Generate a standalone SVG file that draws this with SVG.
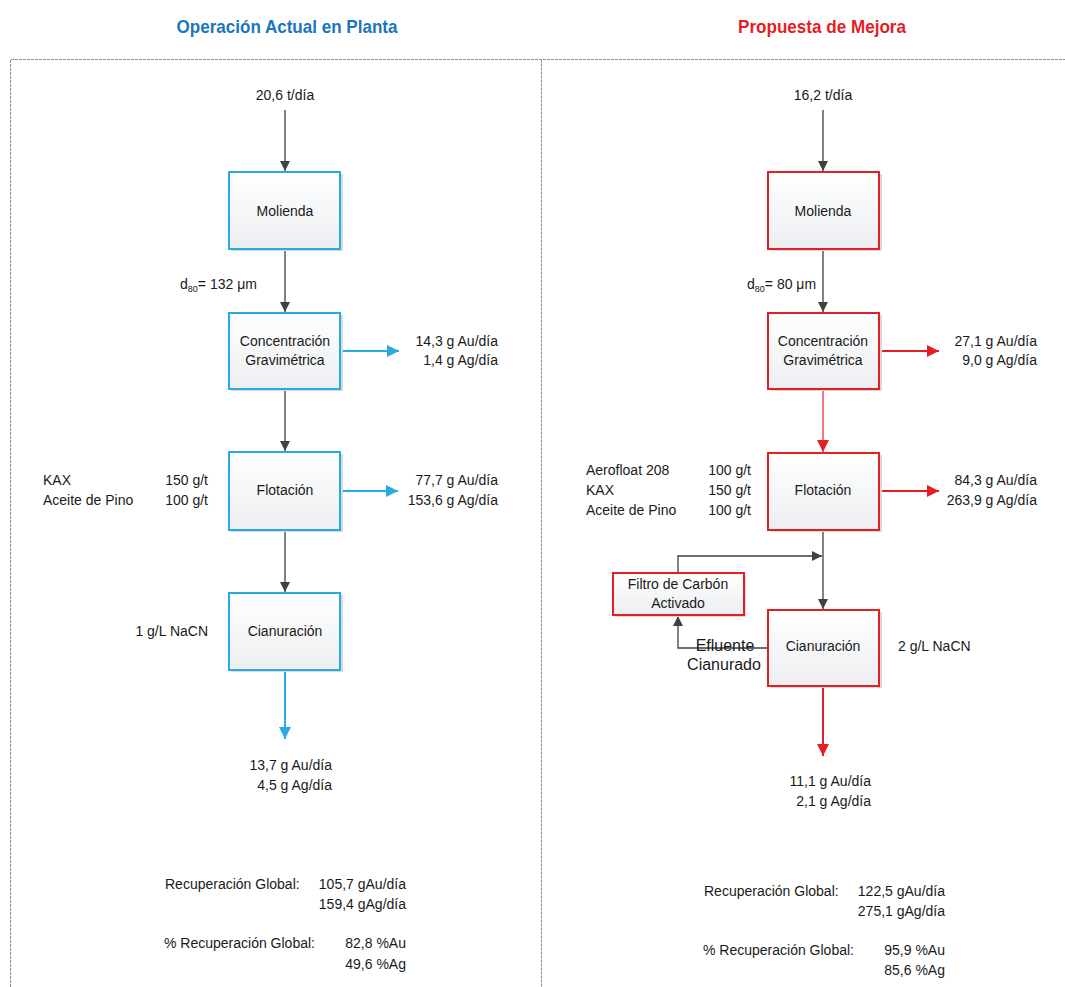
<svg xmlns="http://www.w3.org/2000/svg" width="1065" height="987" viewBox="0 0 1065 987">
  <defs>
    <linearGradient id="boxFill" x1="0" y1="0" x2="0" y2="1">
      <stop offset="0" stop-color="#ffffff"/>
      <stop offset="1" stop-color="#eceef1"/>
    </linearGradient>
    <marker id="arrGray" viewBox="0 0 10 10" refX="10" refY="5" markerWidth="10" markerHeight="10" markerUnits="userSpaceOnUse" orient="auto">
      <path d="M0,0 L10,5 L0,10 Z" fill="#404040"/>
    </marker>
    <marker id="arrBlue" viewBox="0 0 10 10" refX="10" refY="5" markerWidth="12" markerHeight="12" markerUnits="userSpaceOnUse" orient="auto">
      <path d="M0,0 L10,5 L0,10 Z" fill="#29abe2"/>
    </marker>
    <marker id="arrRed" viewBox="0 0 10 10" refX="10" refY="5" markerWidth="12" markerHeight="12" markerUnits="userSpaceOnUse" orient="auto">
      <path d="M0,0 L10,5 L0,10 Z" fill="#e31e24"/>
    </marker>
  </defs>
  <style>
    text { font-family: "Liberation Sans", Arial, sans-serif; font-size: 14px; fill: #1a1a1a; }
    .title { font-size: 19px; font-weight: bold; }
    .mid { text-anchor: middle; }
    .end { text-anchor: end; }
    .sub { font-size: 9px; }
    .big { font-size: 16px; }
    .frame { fill: none; stroke: #8c8c8c; stroke-width: 1; stroke-dasharray: 3 1; }
    .shadow { fill: #d9d9d9; }
    .boxBlue { fill: url(#boxFill); stroke: #29abe2; stroke-width: 2; }
    .boxRed { fill: url(#boxFill); stroke: #e31e24; stroke-width: 2; }
    .lnGray { fill: none; stroke: #404040; stroke-width: 1.3; }
    .lnBlue { fill: none; stroke: #29abe2; stroke-width: 2; }
    .lnRed { fill: none; stroke: #e31e24; stroke-width: 2; }
    .lnRedThin { fill: none; stroke: #e31e24; stroke-width: 1.2; }
  </style>

  <rect width="1065" height="987" fill="#ffffff"/>

  <!-- panel titles -->
  <text class="title mid" x="287" y="33" fill="#1b75bc" style="fill:#1b75bc" textLength="221" lengthAdjust="spacingAndGlyphs">Operación Actual en Planta</text>
  <text class="title mid" x="822" y="33" style="fill:#e31e24" textLength="168" lengthAdjust="spacingAndGlyphs">Propuesta de Mejora</text>

  <!-- dashed panel frame -->
  <g id="frame">
    <path class="frame" d="M10.5,995 V59.5 H1075"/>
    <path class="frame" d="M541.5,59.5 V995"/>
  </g>

  <!-- connectors -->
  <g id="connectors">
    <!-- current operation -->
    <path class="lnGray" d="M285,110 V171" marker-end="url(#arrGray)"/>
    <path class="lnGray" d="M285,250 V312" marker-end="url(#arrGray)"/>
    <path class="lnBlue" d="M342,351 H399" marker-end="url(#arrBlue)"/>
    <path class="lnGray" d="M285,390 V451" marker-end="url(#arrGray)"/>
    <path class="lnBlue" d="M342,491 H398" marker-end="url(#arrBlue)"/>
    <path class="lnGray" d="M285,531 V592" marker-end="url(#arrGray)"/>
    <path class="lnBlue" d="M285,671 V739" marker-end="url(#arrBlue)"/>
    <!-- improvement proposal -->
    <path class="lnGray" d="M823,110 V171" marker-end="url(#arrGray)"/>
    <path class="lnGray" d="M823,250 V312" marker-end="url(#arrGray)"/>
    <path class="lnRed" d="M880,351 H939" marker-end="url(#arrRed)"/>
    <path class="lnRedThin" d="M823,390 V452" marker-end="url(#arrRed)"/>
    <path class="lnRed" d="M880,491 H939" marker-end="url(#arrRed)"/>
    <path class="lnGray" d="M823,531 V609" marker-end="url(#arrGray)"/>
    <path class="lnGray" d="M678,572 V556 H822" marker-end="url(#arrGray)"/>
    <path class="lnGray" d="M767,648 H678 V616" marker-end="url(#arrGray)"/>
    <path class="lnRed" d="M823,687 V756" marker-end="url(#arrRed)"/>
  </g>

  <!-- current operation nodes -->
  <g id="molienda-actual">
    <rect class="shadow" x="231" y="174" width="112" height="77"/>
    <rect class="boxBlue" x="229" y="172" width="111" height="77"/>
    <text class="mid" x="285" y="216">Molienda</text>
  </g>
  <g id="concentracion-actual">
    <rect class="shadow" x="231" y="315" width="112" height="76"/>
    <rect class="boxBlue" x="229" y="313" width="111" height="76"/>
    <text class="mid" x="285" y="346">Concentración</text>
    <text class="mid" x="285" y="365">Gravimétrica</text>
  </g>
  <g id="flotacion-actual">
    <rect class="shadow" x="231" y="454" width="112" height="78"/>
    <rect class="boxBlue" x="229" y="452" width="111" height="78"/>
    <text class="mid" x="285" y="495">Flotación</text>
  </g>
  <g id="cianuracion-actual">
    <rect class="shadow" x="231" y="595" width="112" height="77"/>
    <rect class="boxBlue" x="229" y="593" width="111" height="77"/>
    <text class="mid" x="285" y="636">Cianuración</text>
  </g>

  <!-- current operation labels -->
  <g id="labels-actual">
    <text class="mid" x="285" y="100">20,6 t/día</text>
    <text x="180" y="289">d<tspan class="sub" dy="3">80</tspan><tspan dy="-3">= 132 μm</tspan></text>
    <text class="end" x="498" y="346">14,3 g Au/día</text>
    <text class="end" x="498" y="365">1,4 g Ag/día</text>
    <text x="43" y="485">KAX</text>
    <text x="43" y="505">Aceite de Pino</text>
    <text class="end" x="208" y="485">150 g/t</text>
    <text class="end" x="208" y="505">100 g/t</text>
    <text class="end" x="498" y="485">77,7 g Au/día</text>
    <text class="end" x="498" y="505">153,6 g Ag/día</text>
    <text class="end" x="208" y="636">1 g/L NaCN</text>
    <text class="end" x="332" y="770">13,7 g Au/día</text>
    <text class="end" x="332" y="790">4,5 g Ag/día</text>
    <text x="165" y="889">Recuperación Global:</text>
    <text class="end" x="406" y="889">105,7 gAu/día</text>
    <text class="end" x="406" y="909">159,4 gAg/día</text>
    <text x="164" y="948">% Recuperación Global:</text>
    <text class="end" x="406" y="948">82,8 %Au</text>
    <text class="end" x="406" y="969">49,6 %Ag</text>
  </g>

  <!-- improvement proposal nodes -->
  <g id="molienda-mejora">
    <rect class="shadow" x="771" y="174" width="111" height="77"/>
    <rect class="boxRed" x="768" y="172" width="111" height="77"/>
    <text class="mid" x="823" y="216">Molienda</text>
  </g>
  <g id="concentracion-mejora">
    <rect class="shadow" x="771" y="315" width="111" height="76"/>
    <rect class="boxRed" x="768" y="313" width="111" height="76"/>
    <text class="mid" x="823" y="346">Concentración</text>
    <text class="mid" x="823" y="365">Gravimétrica</text>
  </g>
  <g id="flotacion-mejora">
    <rect class="shadow" x="771" y="455" width="111" height="77"/>
    <rect class="boxRed" x="768" y="453" width="111" height="77"/>
    <text class="mid" x="823" y="495">Flotación</text>
  </g>
  <g id="filtro-carbon">
    <rect class="shadow" x="615" y="575" width="131" height="42"/>
    <rect class="boxRed" x="613" y="573" width="131" height="42"/>
    <text class="mid" x="678" y="589">Filtro de Carbón</text>
    <text class="mid" x="678" y="608">Activado</text>
  </g>
  <g id="cianuracion-mejora">
    <rect class="shadow" x="771" y="612" width="111" height="76"/>
    <rect class="boxRed" x="768" y="610" width="111" height="76"/>
    <text class="mid" x="823" y="651">Cianuración</text>
  </g>

  <!-- improvement proposal labels -->
  <g id="labels-mejora">
    <text class="mid" x="823" y="100">16,2 t/día</text>
    <text x="747" y="289">d<tspan class="sub" dy="3">80</tspan><tspan dy="-3">= 80 μm</tspan></text>
    <text class="end" x="1037" y="346">27,1 g Au/día</text>
    <text class="end" x="1037" y="365">9,0 g Ag/día</text>
    <text x="586" y="475">Aerofloat 208</text>
    <text x="586" y="495">KAX</text>
    <text x="586" y="515">Aceite de Pino</text>
    <text class="end" x="751" y="475">100 g/t</text>
    <text class="end" x="751" y="495">150 g/t</text>
    <text class="end" x="751" y="515">100 g/t</text>
    <text class="end" x="1037" y="485">84,3 g Au/día</text>
    <text class="end" x="1037" y="505">263,9 g Ag/día</text>
    <text class="big mid" x="725" y="651">Efluente</text>
    <text class="big mid" x="724" y="670">Cianurado</text>
    <text x="898" y="651">2 g/L NaCN</text>
    <text class="end" x="871" y="786">11,1 g Au/día</text>
    <text class="end" x="871" y="806">2,1 g Ag/día</text>
    <text x="704" y="896">Recuperación Global:</text>
    <text class="end" x="945" y="896">122,5 gAu/día</text>
    <text class="end" x="945" y="916">275,1 gAg/día</text>
    <text x="703" y="955">% Recuperación Global:</text>
    <text class="end" x="945" y="955">95,9 %Au</text>
    <text class="end" x="945" y="975">85,6 %Ag</text>
  </g>
</svg>
